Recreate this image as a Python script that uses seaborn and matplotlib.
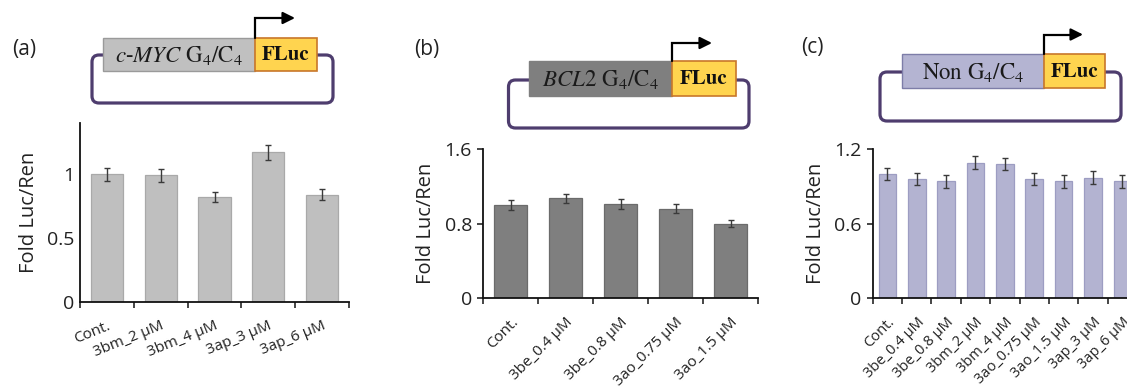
import matplotlib
matplotlib.use("Agg")
import matplotlib.pyplot as plt
from matplotlib.patches import FancyBboxPatch, Rectangle
import numpy as np
import pandas as pd
import seaborn as sns

# ---- data -------------------------------------------------------------
cats_a = ["Cont.", "3bm_2 μM", "3bm_4 μM", "3ap_3 μM", "3ap_6 μM"]
vals_a = [1.00, 0.99, 0.82, 1.17, 0.84]
errs_a = [0.05, 0.05, 0.04, 0.06, 0.04]

cats_b = ["Cont.", "3be_0.4 μM", "3be_0.8 μM", "3ao_0.75 μM", "3ao_1.5 μM"]
vals_b = [1.00, 1.07, 1.01, 0.96, 0.80]
errs_b = [0.05, 0.05, 0.05, 0.05, 0.04]

cats_c = ["Cont.", "3be_0.4 μM", "3be_0.8 μM", "3bm_2 μM", "3bm_4 μM",
          "3ao_0.75 μM", "3ao_1.5 μM", "3ap_3 μM", "3ap_6 μM"]
vals_c = [1.00, 0.96, 0.94, 1.09, 1.08, 0.96, 0.94, 0.97, 0.94]
errs_c = [0.05, 0.05, 0.05, 0.05, 0.05, 0.05, 0.05, 0.05, 0.05]

yticks_a = [0, 0.5, 1]
ytick_labels_a = ["0", "0.5", "1"]
yticks_b = [0, 0.8, 1.6]
ytick_labels_b = ["0", "0.8", "1.6"]
yticks_c = [0, 0.6, 1.2]
ytick_labels_c = ["0", "0.6", "1.2"]

sns.set_theme(style="white")
plt.rcParams["font.family"] = ["Open Sans", "DejaVu Sans"]
plt.rcParams["mathtext.fontset"] = "stix"

W, H = 1127, 387
fig = plt.figure(figsize=(W / 100, H / 100), dpi=100)


def px_axes(left, right, bottom, top):
    return fig.add_axes([left / W, (H - bottom) / H, (right - left) / W, (bottom - top) / H])


def bar_panel(ax, cats, vals, errs, color, edge, ymax, yticks, ylabels, rot, ytick_len, xfs):
    df = pd.DataFrame({"cond": cats, "fold": vals})
    sns.barplot(data=df, x="cond", y="fold", color=color, width=0.6,
                edgecolor=edge, linewidth=0.9, saturation=1, errorbar=None, ax=ax)
    ax.errorbar(np.arange(len(cats)), vals, yerr=errs, fmt="none",
                ecolor="#3a3a3a", elinewidth=1.0, capsize=2.5, capthick=1.0, zorder=5)
    ax.set_xlim(-0.5, len(cats) - 0.5)
    ax.set_ylim(0, ymax)
    ax.set_yticks(yticks)
    ax.set_yticklabels(ylabels, fontsize=14, color="#222222")
    ax.tick_params(axis="y", length=ytick_len, width=1.2, direction="out", pad=4, left=True)
    # category separators as outward tick marks
    ax.set_xticks(np.arange(len(cats)))
    ax.set_xticks(np.arange(len(cats) + 1) - 0.5, minor=True)
    ax.tick_params(axis="x", which="major", length=0, pad=12)
    ax.tick_params(axis="x", which="minor", length=4, width=1.2, direction="out", bottom=True)
    ax.set_xticklabels(cats, rotation=rot, ha="right", rotation_mode="anchor",
                       fontsize=xfs, color="#222222")
    ax.set_xlabel("")
    ax.set_ylabel("Fold Luc/Ren", fontsize=14.5, color="#222222", labelpad=6)
    for s in ["top", "right"]:
        ax.spines[s].set_visible(False)
    for s in ["left", "bottom"]:
        ax.spines[s].set_color("#111111")
        ax.spines[s].set_linewidth(1.3)


ax_a = px_axes(80, 349, 302, 123)
bar_panel(ax_a, cats_a, vals_a, errs_a, "#bfbfbf", "#a9a9a9", 1.4,
          yticks_a, ytick_labels_a, 22, 0, 11)
ax_b = px_axes(483, 758, 298.3, 149)
bar_panel(ax_b, cats_b, vals_b, errs_b, "#7f7f7f", "#6b6b6b", 1.6,
          yticks_b, ytick_labels_b, 45, 4, 11)
ax_c = px_axes(872.7, 1137, 298.3, 149)
bar_panel(ax_c, cats_c, vals_c, errs_c, "#b3b3d1", "#9d9dc2", 1.2,
          yticks_c, ytick_labels_c, 45, 4, 10.5)

# ---- construct diagrams drawn in pixel space --------------------------
ov = fig.add_axes([0, 0, 1, 1], zorder=10)
ov.set_xlim(0, W)
ov.set_ylim(H, 0)
ov.axis("off")
ov.patch.set_alpha(0)

LOOP = "#4e3d6e"


def construct(x0, x1, x2, y0, y1, lx0, lx1, ly0, ly1, arrow_x1, arrow_y,
              box_color, box_edge, label, tag, tag_xy):
    # plasmid loop
    ov.add_patch(FancyBboxPatch((lx0, ly0), lx1 - lx0, ly1 - ly0,
                                boxstyle="round,pad=0,rounding_size=7",
                                fill=False, ec=LOOP, lw=2.3, zorder=1))
    # promoter region
    ov.add_patch(Rectangle((x0, y0), x1 - x0, y1 - y0, fc=box_color, ec=box_edge,
                           lw=1.0, zorder=2))
    # reporter
    ov.add_patch(Rectangle((x1, y0), x2 - x1, y1 - y0, fc="#ffd44f", ec="#c8772a",
                           lw=1.2, zorder=2))
    ov.text((x0 + x1) / 2, (y0 + y1) / 2 + 1, label, ha="center", va="center",
            fontsize=16.5, family="STIXGeneral", color="#1a1a1a", zorder=3)
    ov.text((x1 + x2) / 2, (y0 + y1) / 2 + 1, "FLuc", ha="center", va="center",
            fontsize=15, family="STIXGeneral", weight="bold", color="#111111", zorder=3)
    # transcription start arrow
    ov.plot([x1, x1, arrow_x1 - 8], [y0, arrow_y, arrow_y], color="black", lw=1.6,
            solid_joinstyle="miter", zorder=3)
    ov.annotate("", xy=(arrow_x1, arrow_y), xytext=(arrow_x1 - 10, arrow_y),
                arrowprops=dict(arrowstyle="-|>,head_length=0.6,head_width=0.3",
                                color="black", lw=1.6, shrinkA=0, shrinkB=0))
    ov.text(tag_xy[0], tag_xy[1], tag, ha="center", va="center", fontsize=15,
            color="#222222")


construct(103, 255, 317, 37.5, 71, 92, 333, 55, 103, 295, 18,
          "#c0c0c0", "#9a9a9a", r"$\mathit{c}$-$\mathit{MYC}$ G$_4$/C$_4$", "(a)", (24, 50))
construct(529, 672, 736, 61, 96, 508.5, 749, 80, 128, 712, 43,
          "#7f7f7f", "#7f7f7f", r"$\mathit{BCL2}$ G$_4$/C$_4$", "(b)", (427, 50))
construct(902, 1044, 1105, 54, 88, 880, 1121, 72, 121, 1083, 34.5,
          "#b4b4d2", "#7d7da8", r"Non G$_4$/C$_4$", "(c)", (812, 48))

fig.savefig("out.png", dpi=100)
